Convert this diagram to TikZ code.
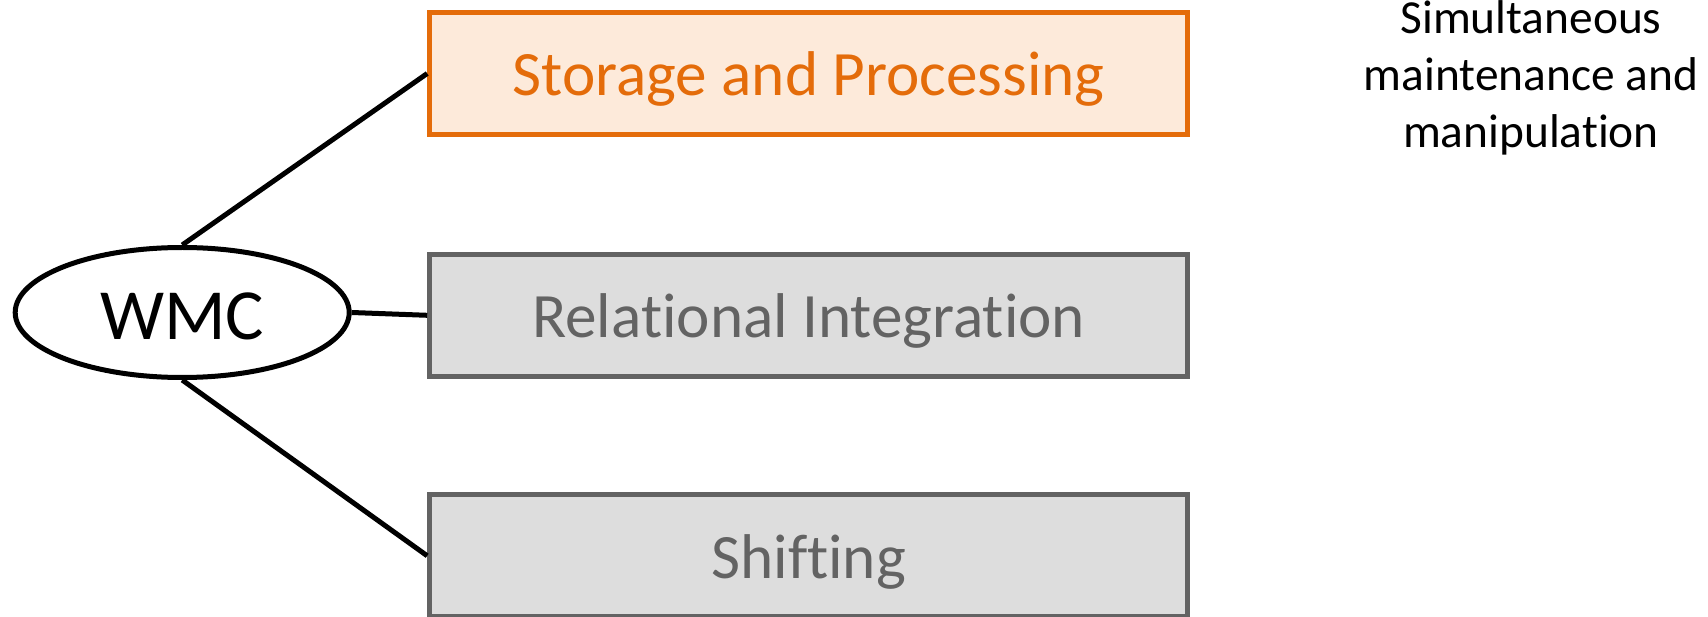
\documentclass[tikz,border=0pt]{standalone}
\usepackage{fontspec}
\setmainfont{Carlito}[Ligatures={NoCommon,NoRare,NoDiscretionary}]
\usetikzlibrary{shapes.geometric}
\definecolor{orangeline}{HTML}{E46C0A}
\definecolor{orangefill}{HTML}{FDEADA}
\definecolor{grayline}{HTML}{636363}
\definecolor{grayfill}{HTML}{DDDDDD}
\begin{document}
\begin{tikzpicture}[x=1pt,y=-1pt,
  boxbase/.style={rectangle, minimum width=758pt, minimum height=122pt, line width=5pt, inner sep=0pt,
    text height=44.7pt, text depth=0pt, font=\fontsize{63.2}{76}\selectfont},
  activebox/.style={boxbase, draw=orangeline, fill=orangefill, text=orangeline},
  grayboxstyle/.style={boxbase, draw=grayline, fill=grayfill, text=grayline},
  rootnode/.style={ellipse, draw=black, line width=5pt, minimum width=334pt, minimum height=130pt, inner sep=0pt,
    text height=53.6pt, text depth=0pt, font=\fontsize{72}{86}\selectfont},
  connector/.style={draw=black, line width=5pt},
  notetext/.style={align=center, inner sep=0pt, font=\fontsize{47.4}{57}\selectfont}
]
\useasboundingbox (0,0) rectangle (1708,617);
\node[rootnode] (wmc) at (182.2,312.5) {WMC};
\node[activebox] (sp) at (808.7,73.5) {Storage and Processing};
\node[grayboxstyle] (ri) at (808.7,315.3) {Relational Integration};
\node[grayboxstyle] (sh) at (808.7,555.8) {Shifting};
\node[notetext, anchor=north] (note) at (1531,0) {Simultaneous\\maintenance and\\manipulation};
\draw[connector] (wmc.north) -- (sp.west);
\draw[connector] (wmc.east) -- (ri.west);
\draw[connector] (wmc.south) -- (sh.west);
\end{tikzpicture}
\end{document}
